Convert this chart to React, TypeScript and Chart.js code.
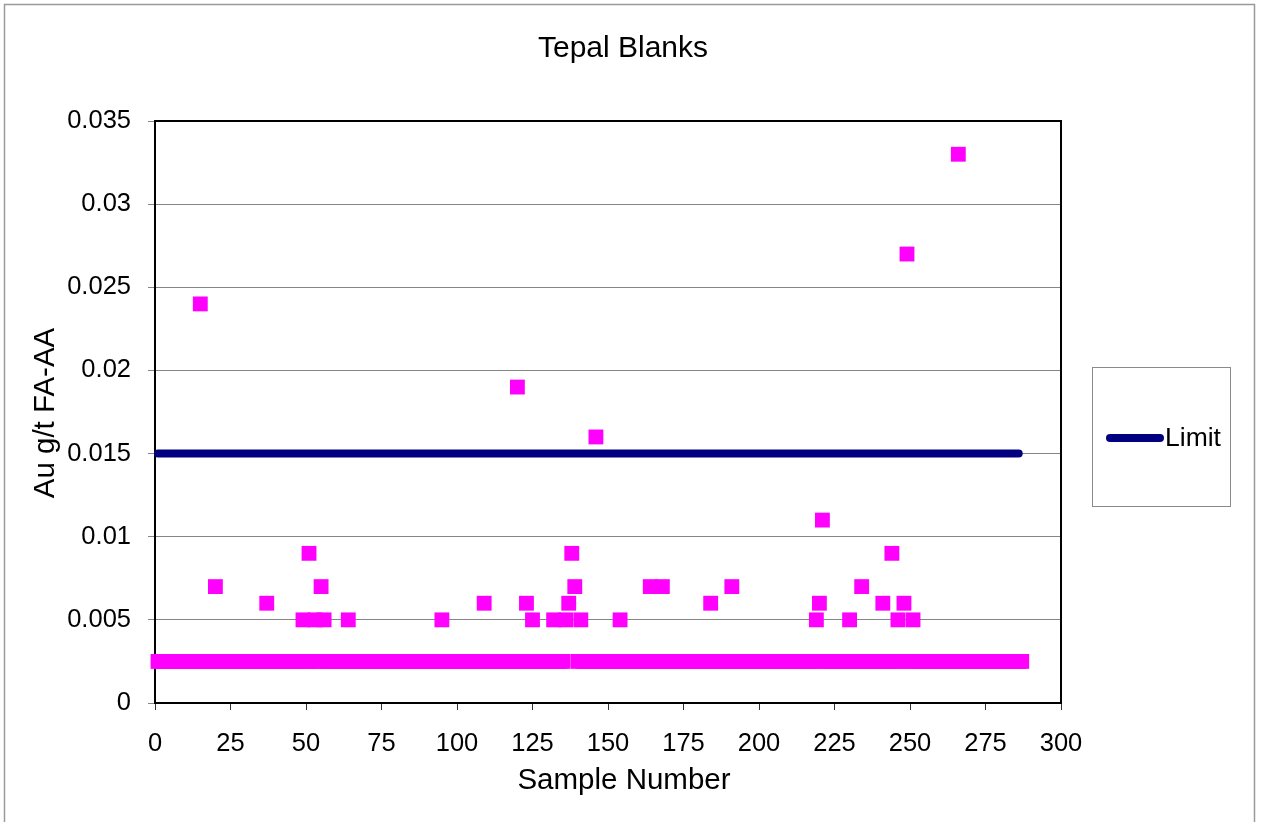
import React, { useEffect, useRef } from "react";
import { Chart, registerables } from "chart.js";

Chart.register(...registerables);

// Blank assay results (Au g/t, FA-AA). Samples below detection are plotted at half the detection limit.
const sampleCount = 287;
const belowDetectionValue = 0.0025;
const elevatedSamples = [
  15, 20, 37, 49, 51, 53, 55, 56, 64, 95, 109, 120, 123, 125, 132, 136, 137, 138, 139, 141,
  146, 154, 164, 168, 184, 191, 219, 220, 221, 230, 234, 241, 244, 246, 248, 249, 251, 266,
];
const elevatedValues = [
  0.024, 0.007, 0.006, 0.005, 0.009, 0.005, 0.007, 0.005, 0.005, 0.005, 0.006, 0.019, 0.006, 0.005,
  0.005, 0.005, 0.006, 0.009, 0.007, 0.005, 0.016, 0.005, 0.007, 0.007, 0.006, 0.007, 0.005, 0.006,
  0.011, 0.005, 0.007, 0.006, 0.009, 0.005, 0.006, 0.027, 0.005, 0.033,
];

// Acceptance limit line
const limitSamples = [1, 286];
const limitValue = 0.015;

const xTicks = [0, 25, 50, 75, 100, 125, 150, 175, 200, 225, 250, 275, 300];
const yTicks = [0, 0.005, 0.01, 0.015, 0.02, 0.025, 0.03, 0.035];

const FONT = "'Liberation Sans', Arial, sans-serif";

const W = 1261;
const H = 822;

export default function App() {
  const canvasRef = useRef<HTMLCanvasElement | null>(null);

  useEffect(() => {
    const canvas = canvasRef.current;
    if (!canvas) return;

    const blankPoints: { x: number; y: number }[] = [];
    for (let s = 1; s <= sampleCount; s++) {
      const idx = elevatedSamples.indexOf(s);
      blankPoints.push({ x: s, y: idx >= 0 ? elevatedValues[idx] : belowDetectionValue });
    }
    const limitPoints = limitSamples.map((s) => ({ x: s, y: limitValue }));

    const decorations = {
      id: "decorations",
      beforeDatasetsDraw(chart: any) {
        const { ctx, chartArea: a } = chart;
        ctx.save();
        ctx.strokeStyle = "#000";
        ctx.lineWidth = 2;
        ctx.strokeRect(a.left, a.top, a.right - a.left, a.bottom - a.top);
        ctx.restore();
      },
      afterDraw(chart: any) {
        const { ctx } = chart;
        ctx.save();
        // outer frame
        ctx.strokeStyle = "#9a9a9a";
        ctx.lineWidth = 1.5;
        ctx.strokeRect(4.5, 4.5, 1250, 860);

        ctx.fillStyle = "#000";
        ctx.textAlign = "center";
        ctx.textBaseline = "middle";
        ctx.font = `30px ${FONT}`;
        ctx.fillText("Tepal Blanks", 623, 49);

        ctx.font = `29.5px ${FONT}`;
        ctx.fillText("Sample Number", 624, 781);

        ctx.save();
        ctx.translate(46, 413);
        ctx.rotate(-Math.PI / 2);
        ctx.fillText("Au g/t FA-AA", 0, 0);
        ctx.restore();

        // legend
        ctx.strokeStyle = "#8a8a8a";
        ctx.lineWidth = 1;
        ctx.strokeRect(1092.5, 367.5, 138, 139);
        ctx.strokeStyle = "#000080";
        ctx.lineWidth = 8;
        ctx.lineCap = "round";
        ctx.beginPath();
        ctx.moveTo(1110, 438);
        ctx.lineTo(1160, 438);
        ctx.stroke();
        ctx.textAlign = "left";
        ctx.font = `26.5px ${FONT}`;
        ctx.fillText("Limit", 1165, 439);
        ctx.restore();
      },
    };

    const chart = new Chart(canvas, {
      type: "scatter",
      data: {
        datasets: [
          {
            label: "Blanks",
            data: blankPoints,
            pointStyle: "rect",
            pointRadius: 10.5,
            pointBorderWidth: 0,
            backgroundColor: "#ff00ff",
            borderColor: "#ff00ff",
            showLine: false,
            clip: false as any,
          },
          {
            label: "Limit",
            data: limitPoints,
            showLine: true,
            pointRadius: 0,
            borderColor: "#000080",
            borderWidth: 8,
            borderCapStyle: "round",
            clip: false as any,
          },
        ],
      },
      options: {
        responsive: false,
        animation: false,
        events: [],
        layout: { padding: { left: 0, top: 121, right: 200, bottom: 0 } },
        plugins: {
          legend: { display: false },
          title: { display: false },
          tooltip: { enabled: false },
        },
        scales: {
          x: {
            type: "linear",
            min: 0,
            max: 300,
            afterFit: (s: any) => {
              s.height = 119;
            },
            afterBuildTicks: (s: any) => {
              s.ticks = xTicks.map((v) => ({ value: v }));
            },
            ticks: {
              font: { size: 25.5, family: FONT },
              color: "#000",
              padding: 19,
              maxRotation: 0,
              autoSkip: false,
              callback: (v: any) => String(v),
            },
            grid: {
              drawOnChartArea: false,
              drawTicks: true,
              tickLength: 7,
              color: "#333",
            },
            border: { display: false },
          },
          y: {
            type: "linear",
            min: 0,
            max: 0.035,
            afterFit: (s: any) => {
              s.width = 155;
            },
            afterBuildTicks: (s: any) => {
              s.ticks = yTicks.map((v) => ({ value: v }));
            },
            ticks: {
              font: { size: 25.5, family: FONT },
              color: "#000",
              padding: 17,
              autoSkip: false,
              callback: (v: any) => String(Number(Number(v).toFixed(3))),
            },
            grid: {
              color: "#858585",
              lineWidth: 1,
              tickLength: 7,
            },
            border: { display: false },
          },
        },
      },
      plugins: [decorations],
    });

    return () => chart.destroy();
  }, []);

  return (
    <div style={{ position: "fixed", left: 0, top: 0, width: W, height: H, background: "#fff" }}>
      <canvas ref={canvasRef} width={W} height={H} style={{ display: "block", width: W, height: H }} />
    </div>
  );
}
